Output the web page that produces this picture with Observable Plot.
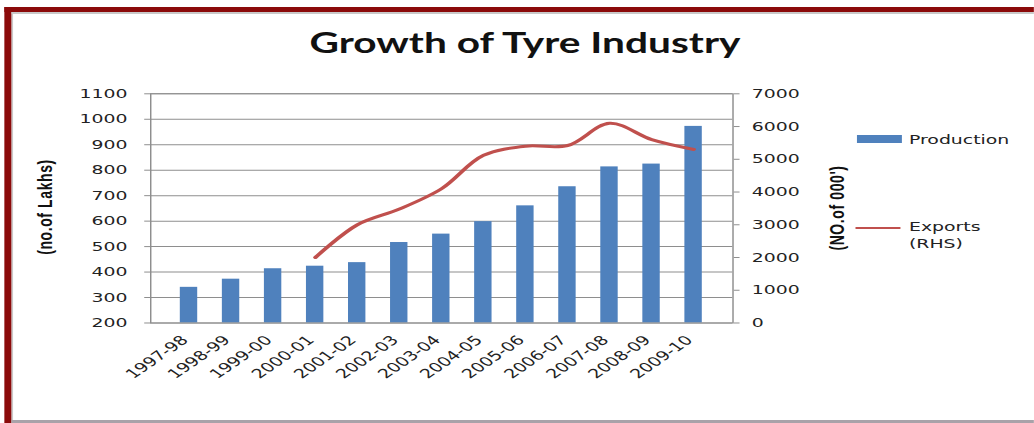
<!DOCTYPE html>
<html>
<head>
<meta charset="utf-8">
<script src="https://cdn.jsdelivr.net/npm/d3@7"></script>
<script src="https://cdn.jsdelivr.net/npm/@observablehq/plot@0.6"></script>
<style>
  html, body { margin: 0; padding: 0; background: #fff; }
  #page { position: relative; width: 1034px; height: 423px; overflow: hidden; background: #fff; }
  #stage { position: absolute; left: 0; top: 0; height: 423px; transform-origin: 0 0; }
  .abs { position: absolute; white-space: nowrap; }
</style>
</head>
<body>
<div id="page"><div id="stage"></div></div>
<script>
// ---- data ----
const years = ["1997-98","1998-99","1999-00","2000-01","2001-02","2002-03","2003-04","2004-05","2005-06","2006-07","2007-08","2008-09","2009-10"];
const production = [340, 372, 413, 423, 437, 516, 549, 598, 660, 735, 813, 824, 972];
const exportsRHS = [null, null, null, 2000, 3000, 3480, 4100, 5120, 5400, 5420, 6100, 5600, 5300];
const leftTicks = [200, 300, 400, 500, 600, 700, 800, 900, 1000, 1100];
const rightTicks = [0, 1000, 2000, 3000, 4000, 5000, 6000, 7000];
const leftDomain = [200, 1100];
const rightDomain = [0, 7000];
const titleText = "Growth of Tyre Industry";
const leftTitle = "(no.of Lakhs)";
const rightTitle = "(NO.of 000')";
const legendItems = ["Production", "Exports", "(RHS)"];

// ---- layout (the reference image is horizontally stretched) ----
const SX = 1.45;
const W = 1034 / SX;
const H = 423;
const stage = document.getElementById("stage");
stage.style.width = W + "px";
stage.style.transform = `scaleX(${SX})`;

const barColor = "#4F81BD";
const lineColor = "#C0504D";
const gridColor = "#8e8e8e";
const textColor = "#222";

const toLeft = v => leftDomain[0] + (v - rightDomain[0]) / (rightDomain[1] - rightDomain[0]) * (leftDomain[1] - leftDomain[0]);
const fromLeft = v => rightDomain[0] + (v - leftDomain[0]) / (leftDomain[1] - leftDomain[0]) * (rightDomain[1] - rightDomain[0]);

const prodData = years.map((y, i) => ({year: y, value: production[i]}));
const expData = years.map((y, i) => ({year: y, value: exportsRHS[i]})).filter(d => d.value != null);

// ---- border ----
function box(css) { const d = document.createElement("div"); d.className = "abs"; Object.assign(d.style, css); stage.appendChild(d); return d; }
box({left: (5/SX)+"px", top: "7px", right: "0px", height: "5px", background: "#8b0a0a"});
box({left: (5/SX)+"px", top: "7px", width: (6/SX)+"px", bottom: "0px", background: "#8b0a0a"});
box({left: (11/SX)+"px", top: "12px", right: "0px", height: "2px", background: "#c9c9c9"});
box({left: (11/SX)+"px", top: "12px", width: (2/SX)+"px", bottom: "0px", background: "#c9c9c9"});
box({left: (11/SX)+"px", top: "420px", right: "0px", height: "3px", background: "#a9a2a9"});

// ---- chart ----
const fmt = d3.format("d");
const chart = Plot.plot({
  width: W,
  height: H,
  marginLeft: 150 / SX,
  marginRight: W - 732.3 / SX,
  marginTop: 93.3,
  marginBottom: H - 322.5,
  style: {background: "transparent", fontFamily: "DejaVu Sans", fontSize: "13px", color: textColor},
  x: {domain: years, padding: 0.6, axis: null, label: null},
  y: {domain: leftDomain, axis: null, label: null},
  marks: [
    Plot.gridY(leftTicks, {stroke: gridColor, strokeOpacity: 1}),
    Plot.barY(prodData, {x: "year", y1: leftDomain[0], y2: "value", fill: barColor}),
    Plot.frame({stroke: gridColor}),
    Plot.line(expData, {x: "year", y: d => toLeft(d.value), stroke: lineColor, strokeWidth: 3, curve: "catmull-rom"}),
    Plot.axisY(leftTicks, {anchor: "left", tickSize: 4, tickPadding: 12, stroke: gridColor, fill: textColor, label: null, tickFormat: fmt}),
    Plot.axisY(rightTicks.map(toLeft), {anchor: "right", tickSize: 4, tickPadding: 9, stroke: gridColor, fill: textColor, label: null, tickFormat: d => fmt(Math.round(fromLeft(d)))}),
    Plot.axisX({tickRotate: -45, tickSize: 0, tickPadding: 15, dx: -3, fill: textColor, label: null})
  ]
});
chart.style.position = "absolute";
chart.style.left = "0px";
chart.style.top = "0px";
stage.appendChild(chart);
d3.select(chart).selectAll("path, line, rect").attr("vector-effect", "non-scaling-stroke");

// ---- title ----
const t = box({left: (525/SX - 250)+"px", width: "500px", top: "25px", textAlign: "center",
  font: "bold 28px Lato, 'Open Sans', sans-serif", color: "#111"});
t.textContent = titleText;

// ---- axis titles ----
function vtitle(text, cx, cy) {
  const d = box({left: cx+"px", top: cy+"px", transform: "translate(-50%,-50%) rotate(-90deg)",
    font: "bold 14px 'Liberation Sans', Arial, sans-serif", letterSpacing: "0.6px", color: "#111"});
  d.textContent = text;
}
vtitle(leftTitle, 45.5/SX, 206.5);
vtitle(rightTitle, 836/SX, 207.5);

// ---- legend ----
box({left: (857/SX)+"px", top: "135px", width: (45.5/SX)+"px", height: "8px", background: barColor});
const l1 = box({left: (909/SX)+"px", top: "139px", transform: "translateY(-50%)", font: "13px 'DejaVu Sans', sans-serif", color: textColor});
l1.textContent = legendItems[0];
box({left: (856/SX)+"px", top: "227px", width: (45/SX)+"px", height: "2px", background: lineColor});
const l2 = box({left: (909/SX)+"px", top: "218px", font: "13px 'DejaVu Sans', sans-serif", color: textColor, lineHeight: "17px"});
l2.innerHTML = legendItems[1] + "<br>" + legendItems[2];
</script>
</body>
</html>
